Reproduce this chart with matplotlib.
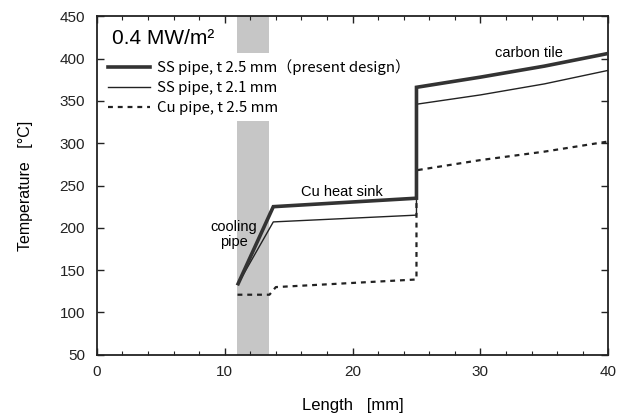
import numpy as np
import matplotlib.pyplot as plt
from matplotlib.ticker import MultipleLocator

# values
x_ss25 = [11.05, 13.8, 25.0, 25.0, 30.0, 35.0, 40.0]
t_ss25 = [134, 225, 235, 366, 378, 391, 406]

x_ss21 = [11.05, 13.8, 25.0, 25.0, 30.0, 35.0, 40.0]
t_ss21 = [134, 207, 215, 346, 357, 370, 386]

x_cu25 = [11.0, 13.5, 14.0, 25.0, 25.0, 30.0, 35.0, 40.0]
t_cu25 = [121, 121, 130, 139, 268, 280, 290, 302]

pipe_zone = (11.0, 13.5)

labels = ['SS pipe, t 2.5 mm（present design）',
          'SS pipe, t 2.1 mm',
          'Cu pipe, t 2.5 mm']

plt.rcParams['font.family'] = ['Liberation Sans', 'DejaVu Sans']

fig, ax = plt.subplots(figsize=(6.29, 4.15), dpi=100)
fig.subplots_adjust(left=0.154, right=0.967, top=0.961, bottom=0.145)

ax.axvspan(*pipe_zone, color='#c6c6c6', lw=0, zorder=0)

l2, = ax.plot(x_ss21, t_ss21, color='#222222', lw=1.0, zorder=2, snap=False)
l3, = ax.plot(x_cu25, t_cu25, color='#222222', lw=1.6, ls=(0, (2.2, 2.2)),
              zorder=2, snap=False)
l1, = ax.plot(x_ss25, t_ss25, color='#333333', lw=2.6, solid_joinstyle='miter',
              zorder=3, snap=False)

ax.set_xlim(0, 40)
ax.set_ylim(50, 450)
ax.xaxis.set_major_locator(MultipleLocator(10))
ax.xaxis.set_minor_locator(MultipleLocator(2))
ax.yaxis.set_major_locator(MultipleLocator(50))
ax.tick_params(which='both', direction='in', top=True, right=True, labelsize=11,
               colors='#222222')
ax.tick_params(which='major', length=5, width=1)
ax.tick_params(axis='y', pad=8.5)
ax.tick_params(axis='x', pad=7)
ax.tick_params(which='minor', length=3, width=0.8)
for s in ax.spines.values():
    s.set_linewidth(1.3)
    s.set_color('#222222')

ax.set_xlabel('Length   [mm]', fontsize=12, labelpad=14)
ax.set_ylabel('Temperature   [°C]', fontsize=11.5, labelpad=19)

ax.text(0.03, 0.962, '0.4 MW/m²', transform=ax.transAxes, fontsize=15,
        va='top', ha='left')

leg = ax.legend([l1, l2, l3], labels, loc='upper left',
                bbox_to_anchor=(0.0098, 0.89), frameon=True, framealpha=1,
                facecolor='white', edgecolor='none', handlelength=2.8,
                handletextpad=0.5, labelspacing=0.4, borderpad=0.4,
                borderaxespad=0.0,
                prop={'family': ['Noto Sans CJK JP', 'DejaVu Sans'], 'size': 10.8})
# keep the white legend box over the shaded band but under the curves
leg.set_zorder(1)

ax.text(19.2, 234, 'Cu heat sink', fontsize=10.5, ha='center', va='bottom')
ax.text(10.7, 192, 'cooling\npipe', fontsize=10.5, ha='center', va='center',
        linespacing=1.1)
ax.text(33.8, 406, 'carbon tile', fontsize=10.5, ha='center', va='center')

fig.savefig('out.png', dpi=100)
